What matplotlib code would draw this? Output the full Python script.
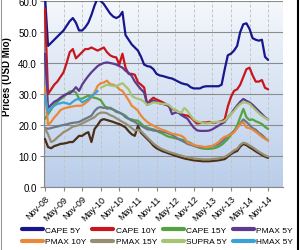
import numpy as np
import matplotlib
matplotlib.use("Agg")
import matplotlib.pyplot as plt
from matplotlib.lines import Line2D

plt.rcParams['font.family'] = ['Liberation Sans Narrow', 'Liberation Sans', 'DejaVu Sans']

# tick labels (every 6 months, Nov-08 .. Nov-14)
tick_labels = ['Nov-08', 'May-09', 'Nov-09', 'May-10', 'Nov-10', 'May-11', 'Nov-11',
               'May-12', 'Nov-12', 'May-13', 'Nov-13', 'May-14', 'Nov-14']

# monthly prices (USD Mio), Nov-08 .. Nov-14
cape_5y = [62, 45.5, 46.5, 47.5, 48.5, 49.5, 50.5, 52, 53.5, 54.5, 53, 50.5, 50.5, 51.5, 53,
           55.5, 58.5, 61, 60, 59, 57.5, 56, 55, 54.5, 55, 56.5, 49, 47.5, 46, 45, 44, 42,
           39.5, 39, 38.8, 38, 36.5, 36, 35.8, 35.5, 35.2, 35, 34.5, 34, 33.5, 33.2, 33,
           32.2, 31.8, 31.8, 31.8, 32.3, 32.5, 32.5, 32.5, 32.5, 32.5, 33, 38, 42.5, 43, 44,
           45.5, 50, 52.5, 52.8, 51, 48, 47.5, 47.2, 47.5, 42, 41]
cape_10y = [57.5, 30, 31.5, 33, 34, 35.5, 37, 40, 43.5, 44.5, 41.5, 42.5, 43.5, 44.5, 44.5,
            45, 44.5, 44, 44.5, 45, 43.5, 42.5, 42, 41.8, 39.5, 43, 38.5, 36.5, 36.5, 36.2,
            33.8, 33, 32.1, 26.5, 28, 28.8, 28.2, 27.8, 27.3, 26.8, 26, 25.2, 24.8, 24.2,
            23.5, 23.2, 23, 22.5, 21.5, 20.5, 20.6, 20.8, 20.8, 21, 20.8, 20.8, 21, 21.2,
            21.8, 26, 29, 31, 31.5, 33, 35.5, 38, 38.5, 36, 34, 34, 34.5, 32, 31.5]
cape_15y = [22, 23.5, 25, 26.5, 27.5, 28.3, 29, 30, 30.8, 31, 30.5, 28.5, 28.5, 29, 29.5, 29,
            28.8, 28.5, 28, 26.5, 25.2, 25.6, 25, 24.2, 24, 23.5, 23, 22, 21.8, 21.5, 21.4,
            20.5, 19.5, 19.2, 18.8, 18.6, 18.2, 17.6, 17.2, 16.6, 16.2, 16, 15.7, 15.5, 15.3,
            15, 14.6, 14.2, 13.5, 13, 12.6, 12.4, 12.3, 12.3, 12.4, 12.6, 13, 13.6, 14.5,
            15.5, 16.8, 18, 19.8, 22.5, 25.2, 22.5, 21.6, 21.8, 21.2, 20.8, 20.3, 19.4, 18.7]
pmax_5y = [43, 25.5, 26.5, 27.5, 28, 28.8, 29.5, 30, 30.2, 31, 32.2, 31, 33, 34.5, 35.8, 37,
           38, 39, 39.6, 40, 40.2, 40, 39.8, 39.5, 39, 38.5, 37.5, 36.8, 35.8, 34, 32.7,
           31.5, 30.5, 26.5, 27.5, 27.9, 27.5, 27, 26.8, 26.5, 26.2, 23.5, 24, 24, 23.2,
           22.6, 22, 20.5, 19.2, 18.3, 18.1, 18.1, 18.1, 18.2, 18.6, 19.2, 19.8, 20.4, 21,
           22.5, 23.5, 25, 26.3, 27.5, 28.4, 27.8, 27.3, 26.5, 25.5, 24.5, 23.5, 22.5, 21.8]
pmax_10y = [32, 20, 21, 22.4, 23.5, 24.8, 25.3, 25.6, 25.8, 26, 26.2, 26.2, 26.3, 27, 27.8,
            29, 30.5, 32.6, 33.5, 33.7, 34.3, 33.2, 33, 32.6, 31.5, 31, 29.5, 28, 26.2, 25.5,
            24.6, 23, 21.9, 21, 20.3, 19.8, 19.2, 18.8, 18.4, 18.1, 17.6, 17.2, 17, 16.8,
            16.5, 15.8, 14.4, 14, 13.6, 13.3, 13.2, 13, 12.8, 13, 13.3, 13.8, 14.5, 15.5,
            16.2, 16.5, 17, 17.6, 19, 20.3, 20.9, 19.2, 19, 18.5, 17.8, 17, 16.2, 15.5, 15]
pmax_15y = [19, 17, 14.5, 15, 16, 16.8, 17.7, 18.2, 18.8, 19.5, 19.7, 20, 20.5, 21, 21.5, 22,
            22.5, 23.5, 24, 24, 23.8, 23.2, 22.8, 22.2, 21.6, 21, 20.5, 19.8, 19, 18.2, 18.5,
            18, 17, 16, 15, 14, 13.3, 12.6, 12.1, 11.7, 11.3, 11, 10.7, 10.4, 10.1, 9.8, 9.6,
            9.4, 9.2, 9.1, 9, 8.9, 8.9, 8.9, 9, 9.1, 9.2, 9.4, 9.7, 10.3, 11, 11.8, 12.3,
            13.6, 14.3, 14, 13.4, 12.8, 12.1, 11.4, 10.8, 10.2, 9.8]
supra_5y = [None] * 18 + [32, 32.5, 33, 32.8, 32.6, 32.5, 33, 33.5, 32.5, 31.5, 29.5, 28.8,
                          28.4, 28.2, 27.5, 26.5, 26.8, 27.3, 27.2, 27, 26.8, 26.8, 26.5,
                          25.5, 24.8, 24.2, 24, 25.5, 24.5, 23, 21.8, 21.2, 20.9, 20.6, 20.5,
                          20.7, 20.9, 21, 21, 21, 21.3, 22.5, 23.5, 24.5, 25.8, 26.8, 27.3,
                          27.2, 26.8, 25.8, 24.8, 23.8, 23, 22.3, 21.8]
hmax_5y = [29.5, 24, 25.5, 26.2, 26.8, 27, 27.3, 27, 26.7, 27.5, 28.2, 28.4, 27.3, 27.8, 28.4,
           29.3, 30, 31] + [None] * 55
# two more series whose legend entries fall below the visible area
extra_a = [19, 18.8, 19, 19.3, 19.5, 19.8, 20, 20.2, 20.5, 20.7, 20.8, 21, 21.5, 22, 22.5, 23,
           24.5, 25.5, 25.8, 25.5, 25.7, 25.3, 25, 24.5, 24, 23.5, 22.5, 22, 21.4, 21, 20.3,
           19.8, 19.2, 18.6, 18.5, 18.2, 18.1, 18, 17.8, 17.6, 17.2, 16.8, 16.2, 15.5, 15,
           14.5, 13.9, 13.6, 13.3, 13, 12.8, 12.8, 12.9, 13, 13.2, 13.4, 13.8, 14.5, 15.5,
           16.5, 17.2, 18, 19, 20.5, 21.8, 21, 20, 19, 18.5, 17.5, 16.8, 15.8, 15]
extra_b = [15.5, 12.9, 12.5, 13.2, 13.5, 13.9, 14, 14.2, 14.5, 14.5, 15.5, 16.5, 16.5, 17.2,
           17.7, 14.5, 18.7, 20, 21.5, 21.9, 21.6, 21.3, 21, 20.6, 20.3, 19.8, 19.2, 18, 17,
           16.5, 19.7, 17.5, 16.5, 15.5, 14.5, 13.3, 12.5, 12, 11.5, 11.2, 10.8, 10.5, 10.1,
           9.8, 9.5, 9.2, 9, 8.8, 8.6, 8.5, 8.4, 8.3, 8.3, 8.3, 8.4, 8.5, 8.6, 8.8, 9, 9.8,
           10.6, 11.2, 11.6, 13, 13.9, 13.5, 12.8, 12.2, 11.5, 10.9, 10.3, 9.8, 9.4]

series = [
    ('CAPE 5Y', cape_5y, '#17168C'),
    ('CAPE 10Y', cape_10y, '#C8161C'),
    ('CAPE 15Y', cape_15y, '#55A33F'),
    ('PMAX 5Y', pmax_5y, '#5D3A8E'),
    ('_extra a', extra_a, '#68788A'),
    ('PMAX 10Y', pmax_10y, '#E9883A'),
    ('_extra b', extra_b, '#4A2E16'),
    ('PMAX 15Y', pmax_15y, '#958E72'),
    ('SUPRA 5Y', supra_5y, '#A6C472'),
    ('HMAX 5Y', hmax_5y, '#3BA2D6'),
]

fig = plt.figure(figsize=(3.0, 2.51), dpi=100)
fig.patch.set_facecolor('white')
ax = fig.add_axes([44 / 300, 63 / 251, 239 / 300, 186 / 251])

# gradient plot background (light at top, blue at bottom)
grad = np.linspace(0, 1, 256).reshape(-1, 1)
cmap = matplotlib.colors.LinearSegmentedColormap.from_list('bg', ['#F5F8FC', '#B9CDEA'])
ax.imshow(grad, aspect='auto', cmap=cmap, origin='upper',
          extent=[-0.3, 76.8, 0, 60], zorder=0)

months = np.arange(len(cape_5y))
handles = {}
for label, vals, col in series:
    y = np.array([np.nan if v is None else v for v in vals], dtype=float)
    ln, = ax.plot(months, y, color=col, lw=1.6, label=label, solid_capstyle='round', zorder=3)
    handles[label] = ln

ax.set_xlim(-0.3, 76.8)
ax.set_ylim(0, 60)
ax.set_yticks(np.arange(0, 61, 10))
ax.set_yticklabels([f'{v:.1f}' for v in np.arange(0, 61, 10)], fontsize=7)
ticks = np.arange(0, 73, 6)
ax.set_xticks(ticks)
ax.set_xticklabels(tick_labels, rotation=45, ha='right', rotation_mode='anchor', fontsize=6.5)
ax.tick_params(axis='x', length=3, color='#888888', pad=2)
ax.tick_params(axis='y', length=3, color='#888888', pad=2)

ax.grid(axis='y', color='#8C8C8C', lw=0.8, zorder=1)
ax.grid(axis='x', color='#C4C4C4', lw=0.7, ls=(0, (3, 2)), zorder=1)
ax.set_axisbelow(True)
for s in ['top', 'right']:
    ax.spines[s].set_visible(False)
ax.spines['left'].set_color('#888888')
ax.spines['bottom'].set_color('#888888')

ax.set_ylabel('Prices (USD Mio)', fontsize=7, fontweight='bold')
ax.yaxis.set_label_coords(-0.135, 0.6)

# legend filled row by row (matplotlib fills columns, so reorder)
order = ['CAPE 5Y', 'PMAX 10Y', 'CAPE 10Y', 'PMAX 15Y',
         'CAPE 15Y', 'SUPRA 5Y', 'PMAX 5Y', 'HMAX 5Y']
leg = fig.legend([handles[k] for k in order], order, loc='upper left',
                 bbox_to_anchor=(22 / 300, 1 - 227 / 251), ncol=4,
                 fontsize=6, frameon=False, handlelength=2.5, handletextpad=0.3,
                 columnspacing=0.7, labelspacing=0.45, borderaxespad=0, borderpad=0)
for h in leg.get_lines():
    h.set_linewidth(3)

# outer frame edges
fig.add_artist(Line2D([0.992, 0.992], [0, 1], transform=fig.transFigure, color='black', lw=1.5))
fig.add_artist(Line2D([0.002, 0.002], [0, 1], transform=fig.transFigure, color='#999999', lw=0.8))

fig.savefig('out.png', dpi=100)
